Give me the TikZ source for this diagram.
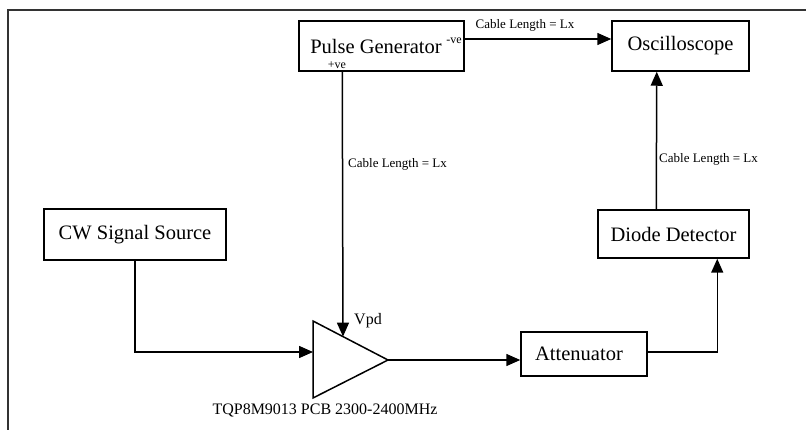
\documentclass[tikz,border=0pt]{standalone}
\usepackage{fontspec}
\setmainfont{Liberation Serif}
\usetikzlibrary{arrows.meta,calc}

\begin{document}
\begin{tikzpicture}[x=1pt,y=-1pt,
  box/.style={draw,line width=1.5pt,inner sep=0pt,font=\fontsize{20.5}{22}\selectfont},
  wire/.style={line width=1.5pt},
  feed/.style={wire,-{Triangle[length=14pt,width=12pt]}},
  small/.style={font=\fontsize{13}{14}\selectfont,inner sep=1pt},
  tiny/.style={font=\fontsize{12}{13}\selectfont,inner sep=0pt}]

  \useasboundingbox (0,0) rectangle (806,430);

  % page frame
  \draw[line width=1.2pt,black!80] (806,10) -- (8,10) -- (8,430);

  % blocks
  \node[box,minimum width=165pt,minimum height=50pt] (pg) at (381.5,46) {};
  \node[font=\fontsize{20.5}{22}\selectfont,inner sep=0pt] (pgtext) at (376,46) {Pulse Generator};
  \node[tiny,anchor=base] (neg) at (454,44) {-ve};
  \node[tiny,anchor=base] (pos) at (337,69) {+ve};
  \node[box,minimum width=137pt,minimum height=50pt] (osc) at (680.5,46) {Oscilloscope};
  \node[box,minimum width=182pt,minimum height=51pt] (cw) at (135,234.5) {CW Signal Source};
  \node[box,minimum width=151pt,minimum height=48pt] (diode) at (673.5,234) {Diode Detector};
  \node[box,minimum width=126pt,minimum height=44pt] (att) at (584,354) {};
  \node[font=\fontsize{20.5}{22}\selectfont,inner sep=0pt] (atttext) at (579,354) {Attenuator};

  % amplifier
  \coordinate (ampa) at (313,321);
  \coordinate (ampb) at (313,398);
  \coordinate (ampc) at (388,360);
  \draw[wire,line join=miter] (ampa) -- (ampc) -- (ampb) -- cycle;
  \coordinate (ampin) at (313,352);
  \coordinate (vpd) at ($(ampa)!0.4!(ampc)$);
  \node[font=\fontsize{16}{18}\selectfont,inner sep=0pt,anchor=west] (vpdlabel) at (354,321) {Vpd};
  \node[font=\fontsize{16}{18}\selectfont,inner sep=0pt] (amplabel) at (325,410) {TQP8M9013 PCB 2300-2400MHz};

  % pulse generator -ve to oscilloscope
  \draw[feed] ($(pg.east)+(0,-7)$) -- ($(osc.west)+(0,-7)$);
  \node[small,anchor=south] (lab1) at (525,33) {Cable Length = Lx};

  % pulse generator +ve to amplifier bias
  \draw[feed] ($(pg.south west)+(44,0)$) -- (vpd);
  \node[small,anchor=west] (lab2) at (347,164) {Cable Length = Lx};

  % RF chain
  \draw[feed] (cw.south) |- (ampin);
  \draw[feed] (ampc) -- ($(att.west)+(0,6)$);
  \coordinate (attout) at ($(att.east)+(0,-2)$);
  \draw[feed] (attout) -| ($(diode.south west)+(120,0)$);
  \draw[feed] ($(diode.north west)+(59,0)$) -- ($(osc.south west)+(45.5,0)$);
  \node[small,anchor=west] (lab3) at (658,159) {Cable Length = Lx};
\end{tikzpicture}
\end{document}
